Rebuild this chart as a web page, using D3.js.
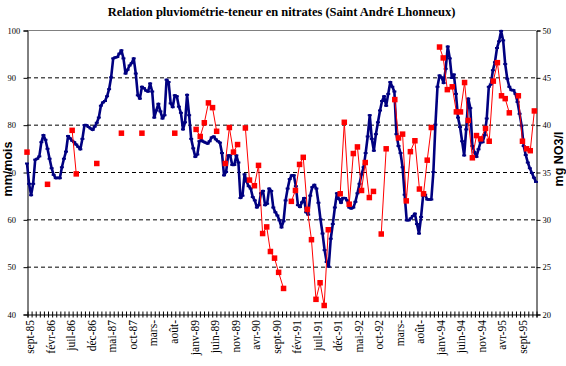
<!DOCTYPE html>
<html><head><meta charset="utf-8">
<script src="https://cdn.jsdelivr.net/npm/d3@7/dist/d3.min.js"></script>
<style>
html,body{margin:0;padding:0;background:#fff;}
svg{display:block;}
</style></head>
<body>
<svg id="c" width="566" height="366"></svg>
<script>
// Monthly category labels (one every 5 months from sept-85)
const monthLabels = ["sept-85","févr-86","juil-86","déc-86","mai-87","oct-87","mars-","août-","janv-89","juin-89","nov-89","avr-90","sept-90","févr-91","juil-91","déc-91","mai-92","oct-92","mars-","août-","janv-94","juin-94","nov-94","avr-95","sept-95"];
const leftTicks = [40,50,60,70,80,90,100];
const rightTicks = [20,25,30,35,40,45,50];

// Rainfall series (mm/mois), one value every half month from sept-85
const pluvio = [
71.8,67.5,65.1,67.5,72.6,72.8,73.3,76.3,77.8,76.8,74.9,72.8,70.8,69.4,68.7,68.8,68.7,71,72.8,74.3,
77.6,77.1,76.6,76.3,75.8,75.3,74.8,77,79.9,79.9,79.5,79.2,78.9,79.6,80.4,81.5,84,84.7,85,86,
87.5,90,94,94.2,94.3,95,95.7,94,90.8,91.6,92.5,93,94,90.8,86.2,85.5,88,87.7,87.2,87,
88.7,87,81.5,83,84.4,82.8,81.3,82,89.5,89,84.5,83.7,86.2,86,83.8,82.5,79,80.5,86.3,82,
77,75,73.2,73.7,76.5,76.7,76.4,76.2,76,76.5,77.3,77.5,76.9,76.5,76.2,74,69.3,70,73.5,73.5,
71.5,71.5,73.5,72,64.5,65,69.5,68,67,66.5,64.7,64,62.5,63,65.5,66,63,63.3,66.5,66,
62.5,61.5,60.8,59.8,58.3,59.6,64,66.5,68.5,69.3,69.3,67,63,62.6,63.6,64.5,61.5,61,65,66.8,
67.3,66.5,63.5,60,57,53.5,51,50,55.9,59,62.5,65.5,64.3,63.5,64.5,64.5,64,62.5,62.3,62.5,
63.7,65.5,67.5,69.5,71,74,77.5,82,77,74.5,78,80.5,83,85,86,84,86.5,89,88,87,
78,75.5,74,71,65.2,59.8,59.8,60.2,60.7,61.2,59,57,60.5,65,65.2,64.2,64.2,64.2,70,80,
88,90.4,90,88.8,91.8,96.5,94,89.9,90.6,86.5,81.5,79.5,76.5,73.5,79,85.5,83.5,75.5,74.2,73.2,
74.8,76.3,76.3,77.8,81.3,88,88.5,91.5,93.2,96.2,97.6,99.8,97.8,92.8,89.7,88,87.3,87.3,86.5,84.8,
82.3,79.8,75.5,73.6,72,70.8,69.8,68.8,67.9
];

// Nitrate samples: month since sept-85 and concentration (mg NO3/l)
const nitrateMonth = [0,5,11,12,17,23,28,36,
41.2,42.2,43.2,44.2,45.2,46.2,
48.3,49.3,50.3,51.3,
53.2,54.2,55.4,56.4,57.4,58.4,59.3,60.3,61.3,62.5,
64.4,65.4,66.4,67.3,68.3,69.3,70.4,71.4,72.4,73.4,
76.3,77.3,78.5,79.5,80.5,81.5,82.4,83.4,84.4,
86.3,87.5,
89.6,90.5,91.5,92.4,93.4,94.5,95.6,96.6,97.5,98.5,
100.5,101.4,102.4,103.6,104.6,105.6,106.6,107.5,108.5,109.5,110.5,111.7,112.6,113.6,114.6,115.6,116.5,117.5,
119.7,120.7,121.7,122.6,123.6];
const nitrateValue = [37.1,33.7,39.4,34.8,35.9,39.1,39.1,39.1,
39.5,38.75,40.2,42.3,41.8,39.3,
35.9,39.7,37.1,37.9,
39.65,34.15,33.55,35.7,28.5,29.2,26.6,25.9,24.4,22.7,
31.9,33.05,35.8,36.55,31.05,27.85,21.55,23.3,20.9,28.9,
32.7,40.25,31.6,36.95,37.65,33.05,36,32.3,32.95,
28.45,37.45,
42.65,38.6,39,31.95,37.15,38.3,33.2,32.7,36.25,39.7,
48.2,47.05,43.7,44,41.35,41.35,44.45,40.45,36.5,38.85,38.5,39.6,38.25,44.6,46.55,43.05,42.75,41.25,
43.05,38.25,37.45,37.25,41.45];

const svg = d3.select("#c");
const L = 27, R = 536, T = 30, B = 314;
const nMonths = 124;
const x = d3.scaleLinear().domain([0, nMonths]).range([L, R]);
const yL = d3.scaleLinear().domain([40, 100]).range([B, T]);
const yR = d3.scaleLinear().domain([20, 50]).range([B, T]);

// title
svg.append("text").attr("x", (L+R)/2).attr("y", 16).attr("text-anchor","middle")
  .attr("font-family","'Liberation Serif','Times New Roman',serif").attr("font-weight","bold")
  .attr("font-size", 12.5).attr("fill","#000")
  .text("Relation pluviométrie-teneur en nitrates (Saint André Lhonneux)");

// gridlines
svg.append("g").selectAll("line").data(leftTicks.filter(d => d > 40 && d < 100)).join("line")
  .attr("x1", L).attr("x2", R).attr("y1", d => yL(d)+0.5).attr("y2", d => yL(d)+0.5)
  .attr("stroke","#000").attr("stroke-width",1).attr("stroke-dasharray","4,3");
// top border
svg.append("line").attr("x1",L).attr("x2",R).attr("y1",T+0.5).attr("y2",T+0.5)
  .attr("stroke","#808080").attr("stroke-width",1);

// left axis
const gL = svg.append("g").attr("transform", `translate(${L+0.5},0.5)`)
  .call(d3.axisLeft(yL).tickValues(leftTicks).tickSize(4).tickPadding(0).tickFormat(d3.format("d")));
gL.select(".domain").attr("stroke","#000");
gL.selectAll(".tick line").attr("stroke","#000");
gL.selectAll(".tick text").attr("text-anchor","start").attr("x", 7 - L)
  .attr("font-family","'Liberation Serif','Times New Roman',serif").attr("font-size",8.5).attr("fill","#000");

// right axis
const gR = svg.append("g").attr("transform", `translate(${R+0.5},0.5)`)
  .call(d3.axisRight(yR).tickValues(rightTicks).tickSize(4).tickPadding(2).tickFormat(d3.format("d")));
gR.select(".domain").attr("stroke","#000");
gR.selectAll(".tick line").attr("stroke","#000");
gR.selectAll(".tick text")
  .attr("font-family","'Liberation Serif','Times New Roman',serif").attr("font-size",8.5).attr("fill","#000");

// bottom axis with monthly crossing ticks
const gB = svg.append("g").attr("transform", `translate(0.5,${B+0.5})`)
  .call(d3.axisBottom(x).tickValues(d3.range(0, nMonths+1)).tickSize(3).tickFormat(""));
gB.select(".domain").attr("stroke","#000");
gB.selectAll(".tick line").attr("stroke","#000").attr("y1",-3).attr("y2",3);

// x labels (every 5 months), rotated
svg.append("g").selectAll("text").data(monthLabels).join("text")
  .attr("transform", (d,i) => `translate(${x(i*5)+3.3},320) rotate(-90)`)
  .attr("text-anchor","end").attr("dy","0.35em")
  .attr("font-family","'Liberation Serif','Times New Roman',serif").attr("font-size",11.5).attr("fill","#000")
  .text(d => d);

// axis titles
svg.append("text").attr("transform","translate(12,169) rotate(-90)").attr("text-anchor","middle")
  .attr("font-family","'Liberation Sans',Arial,sans-serif").attr("font-weight","bold").attr("font-size",12.5)
  .text("mm/mois");
svg.append("text").attr("transform","translate(563,159) rotate(-90)").attr("text-anchor","middle")
  .attr("font-family","'Liberation Sans',Arial,sans-serif").attr("font-weight","bold").attr("font-size",12.5)
  .text("mg NO3/l");

// rainfall line
const pts = pluvio.map((v,i) => [i/2, v]);
svg.append("path").datum(pts)
  .attr("d", d3.line().x(d => x(d[0])).y(d => yL(d[1])))
  .attr("fill","none").attr("stroke","#000080").attr("stroke-width",2.6).attr("stroke-linejoin","round");
svg.append("g").selectAll("rect").data(pts).join("rect")
  .attr("x", d => x(d[0]) - 2).attr("y", d => yL(d[1]) - 1).attr("width",4).attr("height",2)
  .attr("fill","#000080");

// nitrate: connect samples about one month apart
const nit = nitrateMonth.map((m,i) => ({m, v: nitrateValue[i]}));
const segs = [];
nit.forEach((p,i) => { if (i>0 && p.m - nit[i-1].m <= 1.5) segs.push([nit[i-1], p]); });
svg.append("g").selectAll("line").data(segs).join("line")
  .attr("x1", d => x(d[0].m)).attr("y1", d => yR(d[0].v))
  .attr("x2", d => x(d[1].m)).attr("y2", d => yR(d[1].v))
  .attr("stroke","#ff0000").attr("stroke-width",1);
svg.append("g").selectAll("rect").data(nit).join("rect")
  .attr("x", d => x(d.m) - 2.75).attr("y", d => yR(d.v) - 2.75).attr("width",5.5).attr("height",5.5)
  .attr("fill","#ff0000");
</script>
</body></html>
